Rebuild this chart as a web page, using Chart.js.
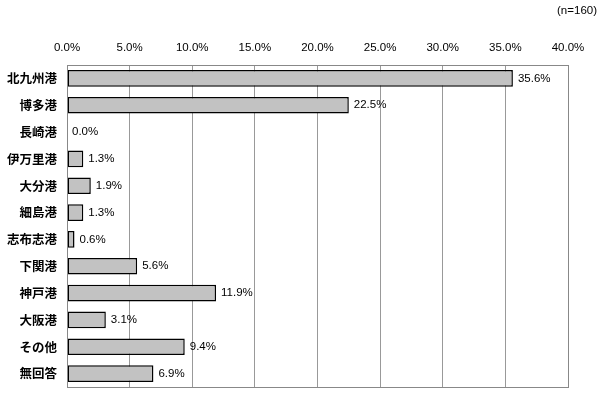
<!DOCTYPE html>
<html><head><meta charset="utf-8">
<script src="https://cdn.jsdelivr.net/npm/chart.js@4/dist/chart.umd.min.js"></script>
<style>html,body{margin:0;padding:0;background:#fff;overflow:hidden}</style>
</head><body><canvas id="c" width="600" height="394" style="display:block;width:600px;height:394px"></canvas>
<script>
const categories = ['北九州港','博多港','長崎港','伊万里港','大分港','細島港','志布志港','下関港','神戸港','大阪港','その他','無回答'];
const values = [35.6, 22.5, 0.0, 1.3, 1.9, 1.3, 0.6, 5.6, 11.9, 3.1, 9.4, 6.9];
const valueLabels = ['35.6%','22.5%','0.0%','1.3%','1.9%','1.3%','0.6%','5.6%','11.9%','3.1%','9.4%','6.9%'];
const xTicks = [0,5,10,15,20,25,30,35,40];
const sampleNote = '(n=160)';

const labelPlugin = {
  id:'labels',
  afterDatasetsDraw(chart){
    const ctx = chart.ctx;
    const meta = chart.getDatasetMeta(0);
    ctx.save();
    ctx.font = '11.5px "Liberation Sans", Arial, sans-serif';
    ctx.fillStyle = '#000';
    ctx.textBaseline = 'middle';
    ctx.textAlign = 'left';
    meta.data.forEach((bar,i)=>{
      ctx.fillText(valueLabels[i], bar.x + 5, bar.y);
    });
    ctx.font = '11.5px "Liberation Sans", Arial, sans-serif';
    ctx.textAlign = 'right';
    ctx.fillText(sampleNote, 597, 11);
    ctx.restore();
  }
};

new Chart(document.getElementById('c'), {
  type:'bar',
  data:{labels:categories, datasets:[{data:values, backgroundColor:'#c2c2c2', borderColor:'#000', borderWidth:1.5, borderSkipped:false, categoryPercentage:0.62, barPercentage:1}]},
  options:{
    indexAxis:'y', responsive:false, maintainAspectRatio:false, animation:false, devicePixelRatio:1,
    layout:{padding:{left:0,right:32,top:22,bottom:7}},
    plugins:{legend:{display:false}, tooltip:{enabled:false}},
    scales:{
      x:{position:'top', min:0, max:40,
        afterBuildTicks(s){ s.ticks = xTicks.map(v=>({value:v})); },
        afterFit(s){ s.height = 43; },
        grid:{color:'#999', lineWidth:1, drawTicks:false},
        border:{color:'#888', width:1},
        ticks:{padding:10, color:'#000', font:{family:'"Liberation Sans", Arial, sans-serif', size:11.5}, callback:(v)=>Number(v).toFixed(1)+'%'}
      },
      y:{
        afterFit(s){ s.width = 67; s.paddingTop = 0; s.paddingBottom = 0; },
        grid:{display:false, drawTicks:false},
        border:{color:'#888', width:1},
        ticks:{padding:10, color:'#000', font:{family:'"Noto Sans CJK JP", sans-serif', size:12.5, weight:'bold'}}
      }
    }
  },
  plugins:[labelPlugin, {
    id:'frame',
    afterDraw(chart){
      const a = chart.chartArea, ctx = chart.ctx;
      ctx.save(); ctx.strokeStyle='#888'; ctx.lineWidth=1;
      ctx.strokeRect(Math.round(a.left)+0.5, Math.round(a.top)+0.5, Math.round(a.right-a.left), Math.round(a.bottom-a.top));
      ctx.restore();
    }
  }]
});
</script></body></html>
